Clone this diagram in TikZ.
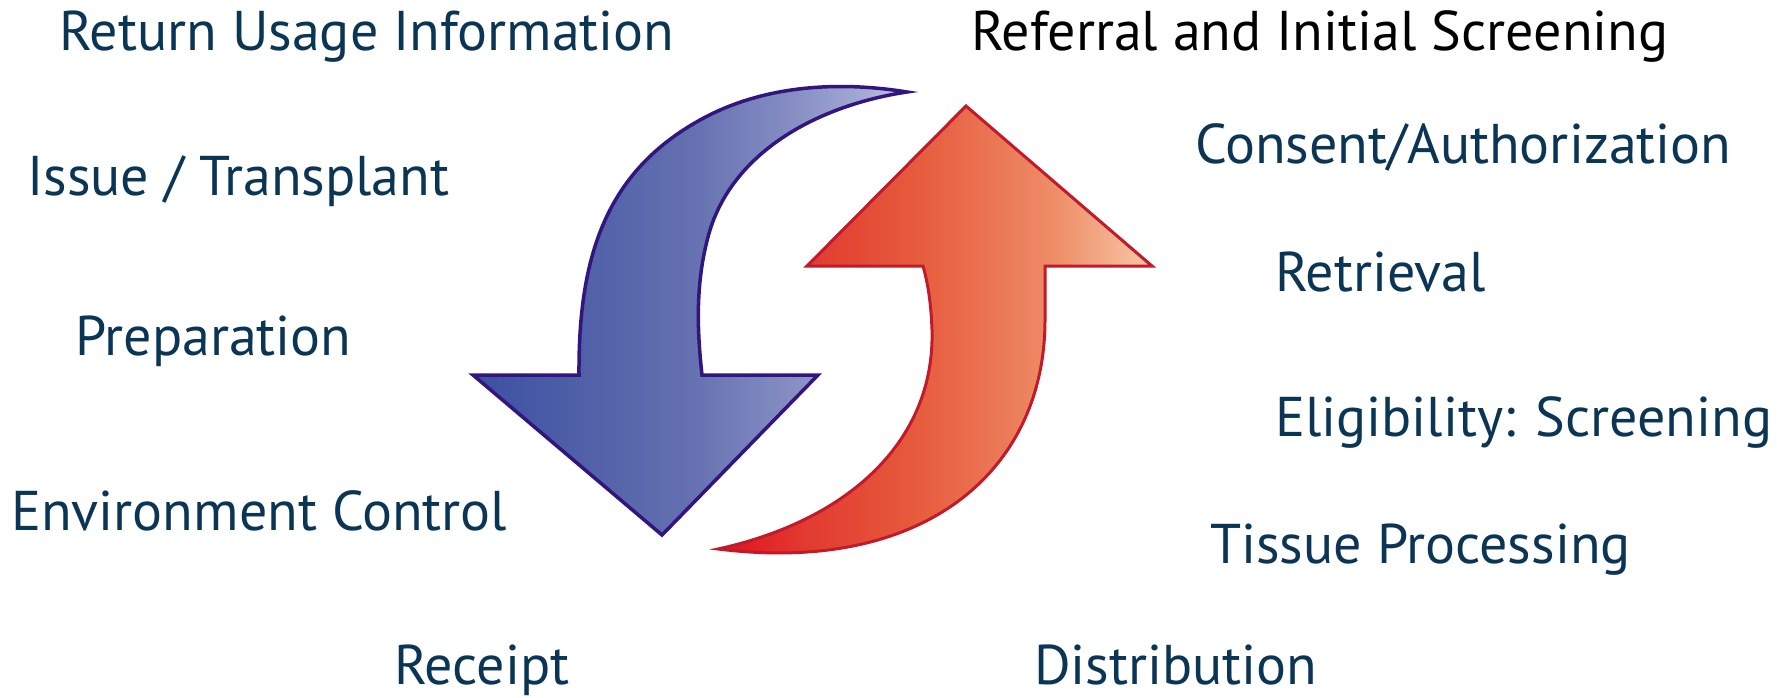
\documentclass[tikz,border=0pt]{standalone}
\usepackage{fontspec}
\setmainfont{PT Sans}
\definecolor{navy}{HTML}{0B3555}
\definecolor{bluestroke}{HTML}{32157E}
\definecolor{redstroke}{HTML}{C01A2B}
\pgfdeclarehorizontalshading{bluesh}{100bp}{
  color(0bp)=(rgb,255:red,59;green,80;blue,162);
  color(25bp)=(rgb,255:red,59;green,80;blue,162);
  color(37.5bp)=(rgb,255:red,80;green,96;blue,168);
  color(50bp)=(rgb,255:red,100;green,112;blue,176);
  color(62.5bp)=(rgb,255:red,136;green,144;blue,196);
  color(70bp)=(rgb,255:red,164;green,170;blue,212);
  color(75bp)=(rgb,255:red,194;green,197;blue,228);
  color(100bp)=(rgb,255:red,194;green,197;blue,228)}
\pgfdeclarehorizontalshading{redsh}{100bp}{
  color(0bp)=(rgb,255:red,224;green,16;blue,31);
  color(25bp)=(rgb,255:red,224;green,16;blue,31);
  color(35bp)=(rgb,255:red,226;green,58;blue,48);
  color(47.5bp)=(rgb,255:red,230;green,90;blue,60);
  color(55bp)=(rgb,255:red,234;green,112;blue,80);
  color(64bp)=(rgb,255:red,238;green,142;blue,104);
  color(75bp)=(rgb,255:red,248;green,200;blue,168);
  color(100bp)=(rgb,255:red,248;green,200;blue,168)}
\begin{document}
\begin{tikzpicture}[x=1pt,y=-1pt,
  lbl/.style={anchor=base west,inner sep=0pt,text=navy,font=\fontsize{56}{64}\selectfont},
  blk/.style={lbl,text=black}]
\useasboundingbox (0,0) rectangle (1777,698);
% blue arrow
\path[draw=bluestroke,line width=3.5pt,line join=miter,shading=bluesh]
  (579,375) .. controls (578,250) and (610,170) .. (700,120)
  .. controls (750,92) and (820,78) .. (907,92)
  .. controls (820,105) and (735,150) .. (710,230)
  .. controls (695,280) and (697,330) .. (702,375)
  -- (818,375) -- (662,535) -- (473,375) -- cycle;
% red arrow
\path[draw=redstroke,line width=3pt,line join=miter,shading=redsh]
  (718,549) .. controls (850,520) and (935,440) .. (932,330)
  .. controls (931,300) and (927,280) .. (923,266)
  -- (807,266) -- (966,106) -- (1152,266) -- (1045,266) -- (1045,320)
  .. controls (1045,470) and (925,575) .. cycle;
% labels
\node[lbl] (rui) at (59,51) {Return Usage Information};
\node[blk] (ris) at (971,51) {Referral and Initial Screening};
\node[lbl] (it) at (27,195) {Issue / Transplant};
\node[lbl] (prep) at (75,355) {Preparation};
\node[lbl] (env) at (11,530) {Environment Control};
\node[lbl] (rec) at (394,684) {Receipt};
\node[lbl] (cons) at (1195,164) {Consent/Authorization};
\node[lbl] (retr) at (1275,291) {Retrieval};
\node[lbl] (elig) at (1275,436) {Eligibility: Screening};
\node[lbl] (tiss) at (1210,563) {Tissue Processing};
\node[lbl] (dist) at (1034,684) {Distribution};
\end{tikzpicture}
\end{document}
